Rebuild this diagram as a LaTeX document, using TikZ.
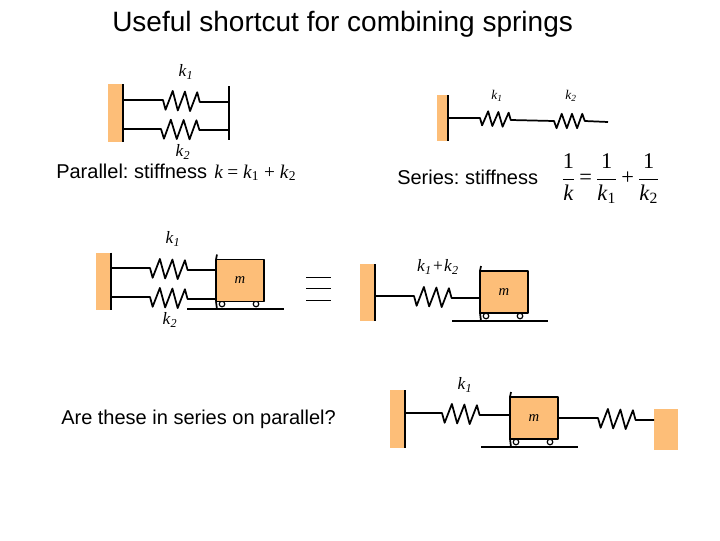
\documentclass[tikz,border=0pt]{standalone}
\usepackage{fontspec}
\setmainfont{Liberation Sans}
\newfontfamily\labelfont{Liberation Serif}
\usetikzlibrary{decorations.pathmorphing}
\definecolor{blockorange}{HTML}{FDBE78}
\newcommand{\italk}[1]{\textit{k}\textsubscript{\textit{#1}}}
\newcommand{\eqk}[1]{\textit{k}\textsubscript{#1}}
\frenchspacing

\begin{document}
\begin{tikzpicture}[x=0.75pt,y=-0.75pt,line join=round,
    wall/.style={fill=blockorange,inner sep=0pt,outer sep=0pt,minimum width=11.25pt,anchor=east},
    mass/.style={draw=black,line width=1.2pt,fill=blockorange,inner sep=0pt,outer sep=0pt,
                 minimum width=36pt,minimum height=31.5pt,font=\labelfont\itshape\fontsize{11}{13}\selectfont},
    wheel/.style={circle,draw=black,line width=0.9pt,fill=white,inner sep=0pt,minimum size=4.2pt},
    wire/.style={line width=1.3pt},
    ground/.style={line width=1.5pt},
    thin wire/.style={line width=0.6pt},
    zig/.style={decoration={zigzag,mirror,segment length=#1,amplitude=7.2pt}},
    zigsmall/.style={decoration={zigzag,mirror,segment length=#1,amplitude=5.4pt}},
    caption/.style={anchor=base west,inner sep=0pt,font=\fontsize{15}{18}\selectfont},
    klabel/.style={inner sep=0pt,font=\labelfont\fontsize{13}{15}\selectfont},
    eqn/.style={inner sep=0pt,font=\labelfont\fontsize{14.5}{17}\selectfont}]

  \useasboundingbox (0,0) rectangle (720,540);

  \node[anchor=base west,inner sep=0pt,font=\fontsize{21}{25}\selectfont] (title) at (112,31)
    {Useful shortcut for combining springs};

  % parallel, no mass
  \node[wall,minimum height=43.5pt] (wallA) at (123,113) {};
  \draw[wire] (wallA.north east) -- (wallA.south east);
  \coordinate (barAt) at (229,86);
  \coordinate (barAb) at (229,140);
  \draw[wire] (barAt) -- (barAb);
  \coordinate (a1) at (123,100);
  \coordinate (a2) at (163,100);
  \coordinate (a3) at (200,102);
  \coordinate (a4) at (229,102);
  \coordinate (a5) at (123,129);
  \coordinate (a6) at (161,129);
  \coordinate (a7) at (200,130);
  \coordinate (a8) at (229,130);
  \draw[wire,zig=9.2pt] (a1) -- (a2) decorate {-- (a3)} -- (a4);
  \draw[wire,zig=9.6pt] (a5) -- (a6) decorate {-- (a7)} -- (a8);
  \node[klabel] (ka1) at (186,72) {\italk{1}};
  \node[klabel] (ka2) at (183,152) {\italk{2}};
  \node[caption] (partext) at (56,178) {Parallel: stiffness};
  \node[eqn,anchor=base west] (pareq) at (214,178) {\eqk{}\kern-1pt\ = \eqk{1} + \eqk{2}};

  % series
  \node[wall,minimum width=8.25pt,minimum height=34.5pt] (wallB) at (448,118) {};
  \draw[wire] (wallB.north east) -- (wallB.south east);
  \coordinate (b1) at (448,118);
  \coordinate (b2) at (480,118);
  \coordinate (b3) at (511,120);
  \coordinate (b4) at (554,121);
  \coordinate (b5) at (585,121);
  \coordinate (b6) at (608,122);
  \draw[wire,zigsmall=7.7pt] (b1) -- (b2) decorate {-- (b3)} -- (b4) decorate {-- (b5)} -- (b6);
  \node[klabel,font=\labelfont\fontsize{10}{12}\selectfont] (kb1) at (497,96) {\italk{1}};
  \node[klabel,font=\labelfont\fontsize{10}{12}\selectfont] (kb2) at (571,96) {\italk{2}};
  \node[caption] (sertext) at (397,184) {Series: stiffness};
  \node[eqn,anchor=west,font=\labelfont\fontsize{16.8}{20}\selectfont] (sereq) at (561,179)
    {$\displaystyle\frac{\hbox{1}}{\hbox{\textit{k}}}\hbox{\,=\,}\frac{\hbox{1}}{\hbox{\eqk{1}}}\hbox{\,+\,}\frac{\hbox{1}}{\hbox{\eqk{2}}}$};

  % parallel with mass
  \node[wall,minimum height=42.75pt] (wallC) at (111,281) {};
  \draw[wire] (wallC.north east) -- (wallC.south east);
  \node[wheel] (wheelC1) at (222,304) {};
  \node[wheel] (wheelC2) at (256,304) {};
  \node[mass] (massC) at (240,280.5) {m};
  \draw[wire] (massC.north west) -- ++(1,-5);
  \draw[wire] (massC.south west) -- ++(1,8);
  \coordinate (groundC1) at (187,309);
  \coordinate (groundC2) at (284,309);
  \draw[ground] (groundC1) -- (groundC2);
  \coordinate (c1) at (111,268);
  \coordinate (c2) at (150,268);
  \coordinate (c3) at (188,270);
  \coordinate (c4) at (216,270);
  \coordinate (c5) at (111,297);
  \coordinate (c6) at (150,297);
  \coordinate (c7) at (188,299);
  \coordinate (c8) at (216,299);
  \draw[wire,zig=9.4pt] (c1) -- (c2) decorate {-- (c3)} -- (c4);
  \draw[wire,zig=9.4pt] (c5) -- (c6) decorate {-- (c7)} -- (c8);
  \node[klabel] (kc1) at (173,239) {\italk{1}};
  \node[klabel] (kc2) at (170,320) {\italk{2}};

  % equivalence sign
  \foreach \n/\y in {1/277,2/288,3/300} {
    \coordinate (eqL\n) at (306,\y);
    \coordinate (eqR\n) at (331,\y);
    \draw[thin wire] (eqL\n) -- (eqR\n);
  }

  % single equivalent spring
  \node[wall,minimum height=42.75pt] (wallD) at (375,292.5) {};
  \draw[wire] (wallD.north east) -- (wallD.south east);
  \node[wheel] (wheelD1) at (486,316) {};
  \node[wheel] (wheelD2) at (520,316) {};
  \node[mass] (massD) at (504,292) {m};
  \draw[wire] (massD.north west) -- ++(1,-5);
  \draw[wire] (massD.south west) -- ++(1,8);
  \coordinate (groundD1) at (452,321);
  \coordinate (groundD2) at (548,321);
  \draw[ground] (groundD1) -- (groundD2);
  \coordinate (d1) at (375,296);
  \coordinate (d2) at (414,296);
  \coordinate (d3) at (452,298);
  \coordinate (d4) at (480,298);
  \draw[wire,zig=9.4pt] (d1) -- (d2) decorate {-- (d3)} -- (d4);
  \node[klabel] (kd) at (438,267) {\italk{1}\kern1pt+\kern1pt\italk{2}};

  % mass between two walls
  \node[caption] (question) at (61,424) {Are these in series on parallel?};
  \node[wall,minimum height=43.5pt] (wallE) at (405,419) {};
  \draw[wire] (wallE.north east) -- (wallE.south east);
  \node[wheel] (wheelE1) at (516,442) {};
  \node[wheel] (wheelE2) at (550,442) {};
  \node[mass] (massE) at (534,418) {m};
  \draw[wire] (massE.north west) -- ++(1,-5);
  \draw[wire] (massE.south west) -- ++(1,8);
  \coordinate (groundE1) at (481,447);
  \coordinate (groundE2) at (578,447);
  \draw[ground] (groundE1) -- (groundE2);
  \node[fill=blockorange,inner sep=0pt,minimum width=18pt,minimum height=30.75pt] (wallF) at (666,429.5) {};
  \coordinate (e1) at (405,413);
  \coordinate (e2) at (442,413);
  \coordinate (e3) at (480,415);
  \coordinate (e4) at (510,415);
  \coordinate (e5) at (558,418);
  \coordinate (e6) at (598,418);
  \coordinate (e7) at (636,420);
  \coordinate (e8) at (654,420);
  \draw[wire,zig=9.4pt] (e1) -- (e2) decorate {-- (e3)} -- (e4);
  \draw[wire,zig=9.4pt] (e5) -- (e6) decorate {-- (e7)} -- (e8);
  \node[klabel] (ke) at (465,385) {\italk{1}};
\end{tikzpicture}
\end{document}
